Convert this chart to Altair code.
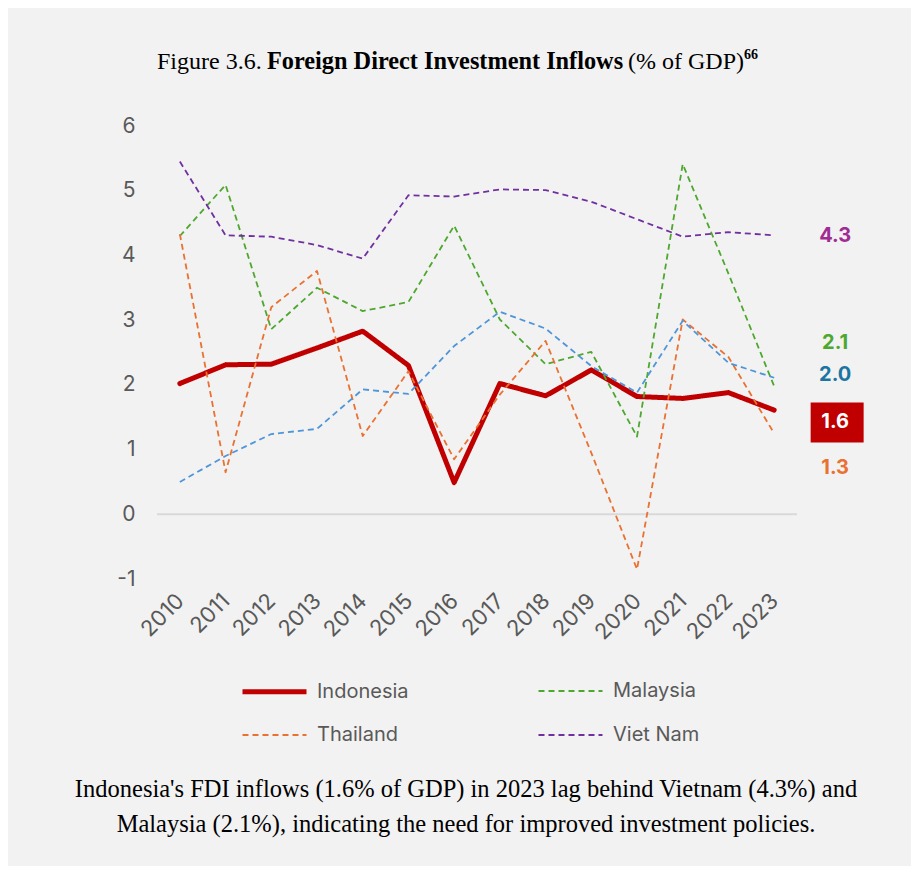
import altair as alt
import pandas as pd

# ---------------- data ----------------
years = list(range(2010, 2024))
countries = ["Indonesia", "Malaysia", "Thailand", "Viet Nam"]
indonesia = [2.02, 2.31, 2.32, 2.57, 2.83, 2.30, 0.49, 2.02, 1.83, 2.23, 1.82, 1.79, 1.88, 1.61]
malaysia = [4.30, 5.09, 2.86, 3.50, 3.14, 3.28, 4.46, 3.01, 2.32, 2.51, 1.20, 5.41, 3.72, 1.98]
thailand = [4.33, 0.65, 3.20, 3.76, 1.21, 2.21, 0.85, 1.85, 2.68, 0.95, -0.85, 3.01, 2.43, 1.25]
viet_nam = [5.45, 4.31, 4.29, 4.16, 3.95, 4.93, 4.91, 5.02, 5.01, 4.83, 4.56, 4.29, 4.36, 4.31]
unlabelled_blue = [0.50, 0.90, 1.24, 1.32, 1.93, 1.86, 2.60, 3.13, 2.87, 2.29, 1.88, 2.99, 2.34, 2.11]

end_label_text = ["4.3", "2.1", "2.0", "1.6", "1.3"]
end_label_y = [4.30, 2.64, 2.16, 1.42, 0.71]
y_ticks = [-1, 0, 1, 2, 3, 4, 5, 6]

title_parts = ["Figure 3.6.", "Foreign Direct Investment Inflows", "(% of GDP)", "66"]
caption_lines = [
    "Indonesia's FDI inflows (1.6% of GDP) in 2023 lag behind Vietnam (4.3%) and",
    "Malaysia (2.1%), indicating the need for improved investment policies.",
]

# ---------------- styles ----------------
line_colors = ["#c00000", "#4ea72e", "#e97132", "#7030a0"]
blue_color = "#4e95d9"
end_label_colors = ["#a02b93", "#4ea72e", "#1b75a3", "#ffffff", "#e97132"]
grey_text = "#595959"
sans = "Inter"
serif = "Liberation Serif"

rows = []
for name, vals in zip(countries, [indonesia, malaysia, thailand, viet_nam]):
    for yr, v in zip(years, vals):
        rows.append({"country": name, "year": yr, "value": v})
df = pd.DataFrame(rows)
df_blue = pd.DataFrame({"year": years, "value": unlabelled_blue})
df_labels = pd.DataFrame({
    "year": [years[-1]] * len(end_label_text),
    "y": end_label_y,
    "t": end_label_text,
    "c": end_label_colors,
})

W, H = 640, 453

x_enc = alt.X(
    "year:O",
    scale=alt.Scale(type="point", padding=0.5),
    axis=alt.Axis(
        title=None, labelAngle=-45, labelAlign="right", labelBaseline="middle",
        labelFontSize=22, labelFont=sans, labelColor=grey_text, labelPadding=18,
        ticks=False, domain=False, grid=False,
    ),
)
y_scale = alt.Scale(domain=[-1, 6], nice=False, zero=False)
y_enc = alt.Y(
    "value:Q",
    scale=y_scale,
    axis=alt.Axis(
        title=None, values=y_ticks, labelExpr="'' + datum.value", labelFontSize=21,
        labelFont=sans, labelColor=grey_text, labelPadding=22, ticks=False,
        domain=False, grid=False,
    ),
)

leg = alt.Legend(
    title=None, orient="none", legendX=83, legendY=531, columns=2, direction="horizontal",
    columnPadding=125, rowPadding=0, symbolType="stroke", symbolSize=4096,
    labelFontSize=20, labelColor=grey_text, labelFont=sans, labelOffset=8, padding=0,
)
color_enc = alt.Color("country:N", scale=alt.Scale(domain=countries, range=line_colors), legend=leg)
dash_enc = alt.StrokeDash(
    "country:N",
    scale=alt.Scale(type="ordinal", domain=countries, range=[[1, 0], [6, 4], [6, 4], [6, 4]]),
    legend=leg,
)
width_enc = alt.StrokeWidth(
    "country:N",
    scale=alt.Scale(type="ordinal", domain=countries, range=[5, 1.8, 1.8, 1.8]),
    legend=leg,
)

zero_rule = alt.Chart(pd.DataFrame({"v": [0]})).mark_rule(color="#d9d9d9", strokeWidth=2).encode(
    y=alt.Y("v:Q", scale=y_scale)
)

indo_line = alt.Chart(df[df.country == "Indonesia"]).mark_line(strokeCap="round", strokeJoin="round").encode(
    x=x_enc, y=y_enc, color=color_enc, strokeDash=dash_enc, strokeWidth=width_enc
)
other_lines = alt.Chart(df[df.country != "Indonesia"]).mark_line(strokeJoin="round").encode(
    x=x_enc, y=y_enc, color=color_enc, strokeDash=dash_enc, strokeWidth=width_enc
)
blue_line = alt.Chart(df_blue).mark_line(color=blue_color, strokeDash=[6, 4], strokeWidth=1.8, strokeJoin="round").encode(
    x=x_enc, y=y_enc
)

box = alt.Chart(df_labels[df_labels.t == "1.6"]).mark_point(
    shape="M-1.325,-1H1.325V1H-1.325Z", filled=True, opacity=1, color="#c00000", size=1600
).encode(x=alt.X("year:O"), y=alt.Y("y:Q", scale=y_scale), xOffset=alt.value(63))

end_labels = alt.Chart(df_labels).mark_text(
    font=sans, fontSize=20, fontWeight="bold", align="center", baseline="middle", dx=61
).encode(
    x=alt.X("year:O"), y=alt.Y("y:Q", scale=y_scale), text="t:N", color=alt.Color("c:N", scale=None)
)


def txt(s, x, y, size, weight="normal", align="left", font=serif, color="#000000"):
    return alt.Chart(pd.DataFrame({"t": [s]})).mark_text(
        font=font, fontSize=size, fontWeight=weight, align=align, baseline="middle", color=color
    ).encode(text="t:N", x=alt.value(x), y=alt.value(y))


title_layers = [
    txt(title_parts[0], 0, -64, 24),
    txt(title_parts[1], 110, -64, 24.3, "bold"),
    txt(title_parts[2], 471, -64, 24),
    txt(title_parts[3], 587, -71, 14, "bold"),
]
caption_layers = [
    txt(caption_lines[0], 309, 664, 24.5, align="center"),
    txt(caption_lines[1], 309, 699, 24.5, align="center"),
]

chart = alt.layer(
    zero_rule, indo_line, other_lines, blue_line, box, end_labels, *title_layers, *caption_layers
).properties(
    width=W, height=H, background="#f2f2f2",
    padding={"left": 149, "top": 118, "right": 114, "bottom": 287},
    autosize=alt.AutoSizeParams(type="none"),
).configure_view(stroke=None)

chart.save("out.html", embed_options={"renderer": "svg", "actions": False})
